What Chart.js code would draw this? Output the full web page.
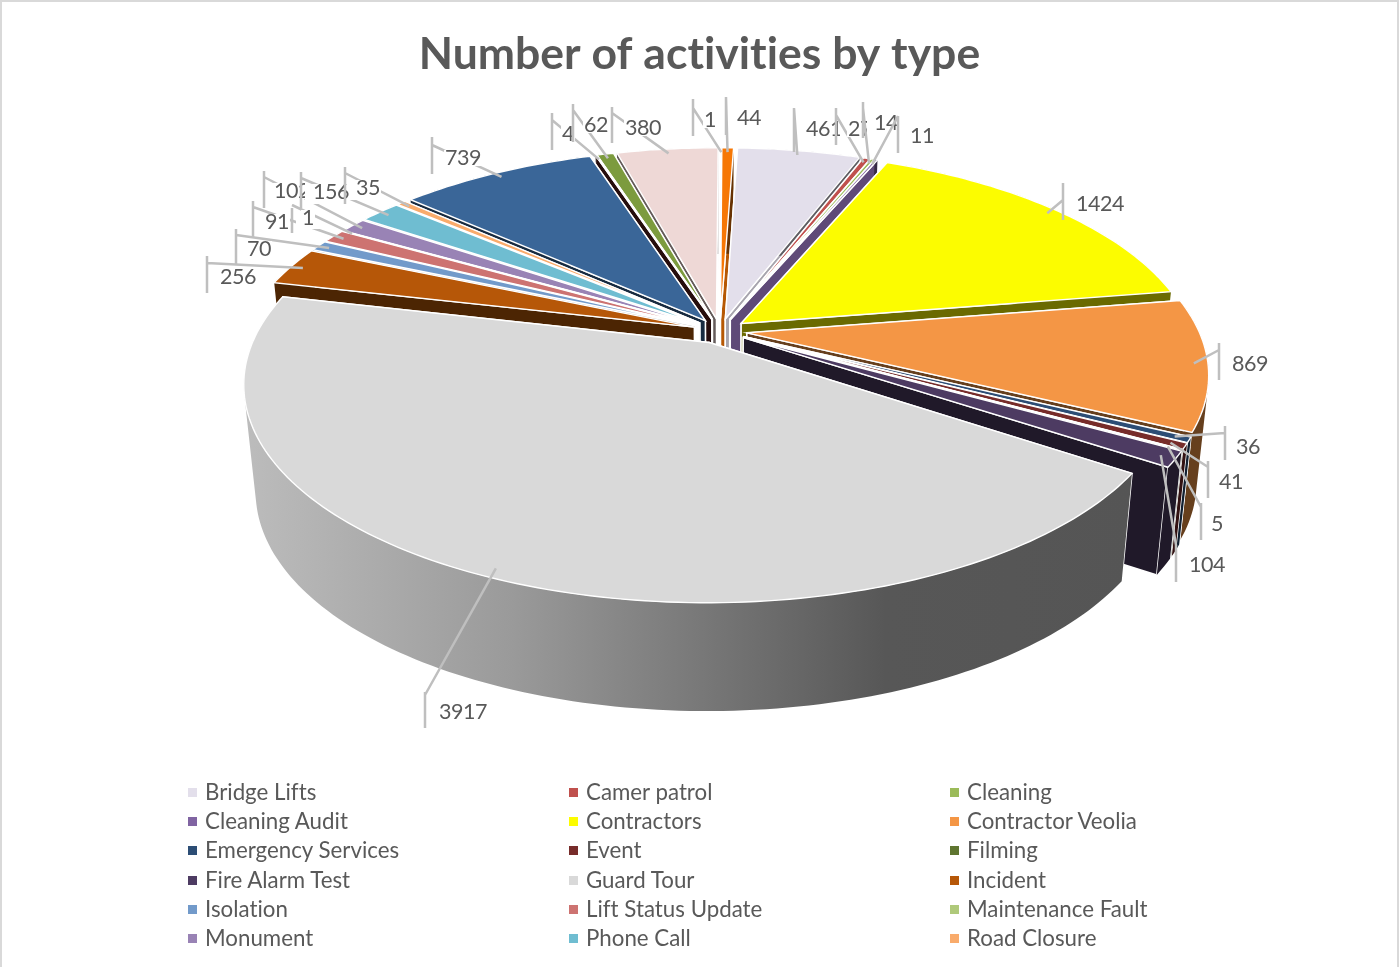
<!DOCTYPE html>
<html>
<head>
<meta charset="utf-8">
<title>Number of activities by type</title>
<script src="https://cdn.jsdelivr.net/npm/chart.js@4"></script>
<style>
  html, body { margin: 0; padding: 0; background: #fff; }
  #wrap { position: relative; width: 1399px; height: 967px; overflow: hidden; }
  #wrap:after { content: ""; position: absolute; left: 0; top: 0; width: 1395px; height: 980px; border: 2px solid #d9d9d9; }
  #activityChart { position: absolute; left: 0; top: 0; }
  #legend span { position: absolute; font: 22.3px Lato, sans-serif; font-variant-ligatures: none; color: #595959; white-space: nowrap; line-height: 28px; }
  #legend i { position: absolute; width: 9px; height: 9px; }
</style>
</head>
<body>
<div id="wrap">
  <canvas id="activityChart" width="1399" height="967"></canvas>
  <div id="legend"></div>
</div>
<script>
// the last six slices have no entry in the legend of the original, so no name
const categories = ['Bridge Lifts', 'Camer patrol', 'Cleaning', 'Cleaning Audit', 'Contractors', 'Contractor Veolia',
  'Emergency Services', 'Event', 'Filming', 'Fire Alarm Test', 'Guard Tour', 'Incident',
  'Isolation', 'Lift Status Update', 'Maintenance Fault', 'Monument', 'Phone Call', 'Road Closure',
  '', '', '', '', '', ''];
const activityCounts = [461, 27, 14, 11, 1424, 869, 36, 41, 5, 104, 3917, 256, 70, 91, 1, 102, 156, 35, 739, 4, 62, 380, 1, 44];
const sliceColors = ['#e3dfeb', '#c0504d', '#9bbb59', '#8064a2', '#fcfc00', '#f49645',
  '#2c4d75', '#772c2a', '#5f7530', '#4d3b62', '#d9d9d9', '#b65708',
  '#729aca', '#cd7371', '#afc97a', '#9983b5', '#6fbdd1', '#f9ab6b',
  '#3a6698', '#5a1e1c', '#7c9b3e', '#eed8d6', '#a99bbd', '#f67705'];

// where the value labels sit: text centre, then the grey bar beside it (x, top, bottom, y where the leader leaves)
const labelSpots = [
  [824, 129, 794, 108, 152, 108], [860, 129, 836, 108, 145, 115], [886, 123, 863, 102, 138, 108], [922, 136, 898, 116, 153, 116],
  [1100, 204, 1063, 183, 220, 200], [1250, 364, 1219, 343, 380, 350], [1248, 447, 1225, 426, 460, 433], [1231, 482, 1208, 461, 498, 467],
  [1217, 524, 1201, 503, 540, 507], [1207, 565, 1176, 545, 582, 545], [463, 712, 425, 692, 728, 695], [238, 277, 207, 256, 293, 263],
  [259, 249, 236, 229, 265, 235], [277, 222, 253, 201, 237, 207], [308, 218, 292, 208, 233, 205], [292, 191, 264, 171, 208, 177],
  [331, 192, 301, 172, 208, 178], [368, 188, 345, 167, 204, 173], [463, 158, 432, 137, 174, 145], [568, 134, 552, 113, 150, 120],
  [596, 125, 573, 104, 142, 110], [643, 128, 612, 107, 143, 113], [710, 120, 693, 99, 136, 108], [749, 118, 726, 97, 135, 97]
];

// the tilted disc: a flat circle seen in perspective
const view = { cx: 720, cy: 331, rx: 452, ry: 207, persp: 0.186, explode: 0.06,
  bottomScale: 0.975, bottomDrop: 107, bottomRy: 208 };

function project(u, v, bottom) {
  const w = 1 + view.persp * v;
  if (bottom) {
    return [view.cx + view.bottomScale * view.rx * u / w, view.cy + view.bottomDrop - view.bottomRy * v / w];
  }
  return [view.cx + view.rx * u / w, view.cy - view.ry * v / w];
}

function shade(hex, f) {
  const n = parseInt(hex.slice(1), 16);
  return 'rgb(' + Math.round((n >> 16) * f) + ',' + Math.round(((n >> 8) & 255) * f) + ',' + Math.round((n & 255) * f) + ')';
}

function addPoly(ctx, pts) {
  pts.forEach((p, i) => { if (i) ctx.lineTo(p[0], p[1]); else ctx.moveTo(p[0], p[1]); });
  ctx.closePath();
}

function tracePath(ctx, pts) {
  ctx.beginPath();
  addPoly(ctx, pts);
}

function rimPoints(arc, bottom) {
  const mid = (arc.startAngle + arc.endAngle) / 2;
  const du = view.explode * Math.cos(mid), dv = -view.explode * Math.sin(mid);
  const steps = Math.max(2, Math.ceil((arc.endAngle - arc.startAngle) / 0.02));
  const pts = [];
  for (let i = 0; i <= steps; i++) {
    const a = arc.startAngle + (arc.endAngle - arc.startAngle) * i / steps;
    pts.push(project(Math.cos(a) + du, -Math.sin(a) + dv, bottom));
  }
  return { pts: pts, apex: project(du, dv, bottom) };
}

function drawFace(ctx, a, b, c, d, fill) {
  tracePath(ctx, [a, b, c, d]);
  ctx.fillStyle = fill;
  ctx.fill();
  ctx.strokeStyle = '#fff';
  ctx.lineWidth = 1.5;
  ctx.stroke();
}

function drawSlice(ctx, chart, arc, i) {
  const color = sliceColors[i];
  const top = rimPoints(arc, false), low = rimPoints(arc, true);
  const last = top.pts.length - 1;
  // cut faces looking to the right catch more light
  const endShade = Math.sin(arc.endAngle) < -0.9 && Math.cos(arc.endAngle) > 0 ? 0.74 : 0.42;
  const startFace = () => drawFace(ctx, top.apex, top.pts[0], low.pts[0], low.apex, shade(color, 0.42));
  const endFace = () => drawFace(ctx, top.apex, top.pts[last], low.pts[last], low.apex, shade(color, endShade));

  // the face further back goes first
  if (Math.sin(arc.startAngle) < Math.sin(arc.endAngle)) {
    startFace();
    endFace();
  } else {
    endFace();
    startFace();
  }

  // outer wall: all strips in one path, turned the same way, so no seams and a closed silhouette
  let wallFill = shade(color, 0.42);
  if (categories[i] === 'Guard Tour') {
    wallFill = ctx.createLinearGradient(245, 0, 1135, 0);
    wallFill.addColorStop(0, '#bcbcbc');
    wallFill.addColorStop(0.3, '#9a9a9a');
    wallFill.addColorStop(0.72, '#575757');
    wallFill.addColorStop(1, '#555555');
  }
  ctx.beginPath();
  for (let j = 0; j < last; j++) {
    const quad = [top.pts[j], top.pts[j + 1], low.pts[j + 1], low.pts[j]];
    let area = 0;
    quad.forEach((p, k) => {
      const q = quad[(k + 1) % 4];
      area += p[0] * q[1] - q[0] * p[1];
    });
    addPoly(ctx, area < 0 ? quad.reverse() : quad);
  }
  ctx.fillStyle = wallFill;
  ctx.fill();

  // top
  tracePath(ctx, [top.apex].concat(top.pts));
  ctx.fillStyle = color;
  ctx.fill();
  ctx.strokeStyle = '#fff';
  ctx.lineWidth = 1.4;
  ctx.stroke();
}

const pie3d = {
  id: 'pie3d',
  beforeDraw(chart) {
    // stops Lato from joining "ti" in the title
    chart.ctx.letterSpacing = '0.01px';
  },
  beforeDatasetsDraw(chart) {
    const ctx = chart.ctx;
    const arcs = chart.getDatasetMeta(0).data;
    const order = arcs.map((arc, i) => i).filter(i => categories[i] !== 'Guard Tour');
    const depth = i => -Math.sin((arcs[i].startAngle + arcs[i].endAngle) / 2);
    order.sort((a, b) => depth(b) - depth(a));
    order.push(categories.indexOf('Guard Tour'));
    ctx.save();
    order.forEach(i => drawSlice(ctx, chart, arcs[i], i));
    ctx.restore();
    drawValueLabels(ctx, arcs);
    return false;
  }
};

function drawValueLabels(ctx, arcs) {
  ctx.save();
  ctx.font = '21.5px Lato, sans-serif';
  ctx.letterSpacing = '-0.5px';
  ctx.textAlign = 'center';
  ctx.textBaseline = 'middle';
  arcs.forEach((arc, i) => {
    const s = labelSpots[i];
    const mid = (arc.startAngle + arc.endAngle) / 2;
    const r = 0.97;
    const end = project((r + view.explode) * Math.cos(mid), -(r + view.explode) * Math.sin(mid), false);
    const text = String(activityCounts[i]);
    const tw = ctx.measureText(text).width;
    // each label is an opaque box that hides what earlier labels drew
    ctx.fillStyle = '#fff';
    ctx.fillRect(s[2] + 4, s[3], s[0] + tw / 2 + 8 - s[2] - 4, s[4] - s[3] - 4);
    ctx.strokeStyle = '#bfbfbf';
    ctx.lineWidth = 2.5;
    ctx.beginPath();
    ctx.moveTo(s[2], s[3]);
    ctx.lineTo(s[2], s[4]);
    ctx.moveTo(s[2], s[5]);
    ctx.lineTo(end[0], end[1]);
    ctx.stroke();
    ctx.fillStyle = '#fff';
    ctx.fillRect(s[0] - tw / 2 - 1, s[1] - 8, tw + 2, 16);
    ctx.fillStyle = '#595959';
    ctx.fillText(text, s[0], s[1]);
  });
  ctx.restore();
}

const ctx = document.getElementById('activityChart').getContext('2d');
const activityChart = new Chart(ctx, {
  type: 'pie',
  data: {
    labels: categories,
    datasets: [{ data: activityCounts, backgroundColor: sliceColors, borderWidth: 0 }]
  },
  options: {
    responsive: false,
    animation: false,
    rotation: 2,
    events: [],
    plugins: {
      legend: { display: false },
      tooltip: { enabled: false },
      title: {
        display: true,
        text: 'Number of activities by type',
        color: '#595959',
        font: { family: 'Lato, sans-serif', size: 44.5, weight: 'bold' },
        padding: { top: 28, bottom: 10 }
      }
    }
  },
  plugins: [pie3d]
});

// legend in three columns, same order as the data
const legendBox = document.getElementById('legend');
const legendColumns = [188, 569, 950];
const legendRows = [792, 821, 850, 880, 909, 938];
categories.forEach((name, i) => {
  if (!name) return;
  const col = i % 3, row = Math.floor(i / 3);
  const box = document.createElement('i');
  box.style.left = legendColumns[col] + 'px';
  box.style.top = (legendRows[row] - 4) + 'px';
  box.style.background = sliceColors[i];
  legendBox.appendChild(box);
  const label = document.createElement('span');
  label.textContent = name;
  label.style.left = (legendColumns[col] + 17) + 'px';
  label.style.top = (legendRows[row] - 14) + 'px';
  legendBox.appendChild(label);
});
</script>
</body>
</html>
